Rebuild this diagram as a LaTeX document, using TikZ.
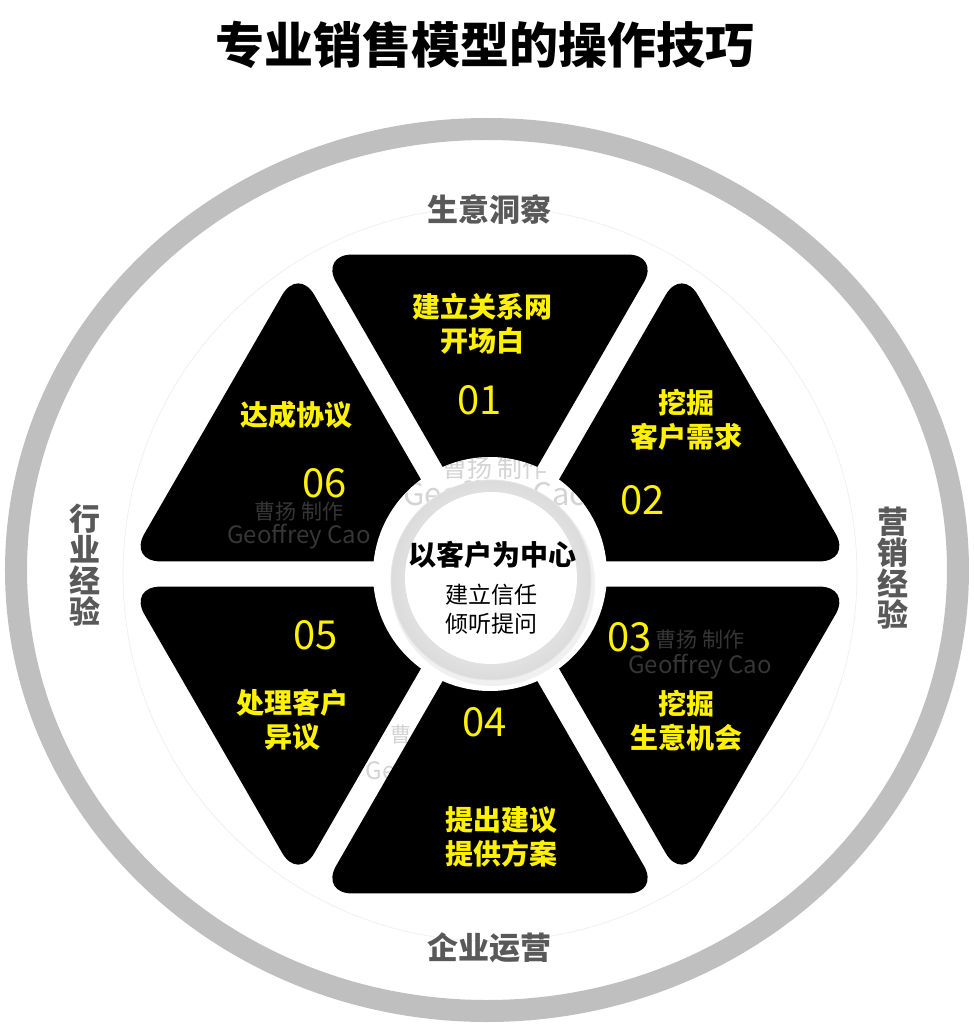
\documentclass[tikz,border=0pt]{standalone}
\usepackage{fontspec}
\setmainfont{Noto Sans CJK SC}
\definecolor{ringgray}{HTML}{BFBFBF}
\definecolor{labelgray}{HTML}{595959}
\definecolor{markdark}{HTML}{363636}
\definecolor{marklight}{HTML}{D4D4D4}

\begin{document}
\begin{tikzpicture}[x=1pt, y=1pt,
  tri/.style={fill=black, rounded corners=32pt},
  yl/.style={text=yellow, align=center, font=\bfseries\fontsize{28}{34}\selectfont},
  num/.style={text=yellow, font=\fontsize{40}{40}\selectfont},
  side/.style={text=labelgray, align=center, font=\bfseries\fontsize{31}{31}\selectfont},
  wmcn/.style={font=\fontsize{21}{21}\selectfont},
  wmen/.style={font=\fontsize{24}{24}\selectfont}]
\fill [white] (-490,-455) rectangle (484,574);
\useasboundingbox (-490,-455) rectangle (484,574);

\node (title) [font=\bfseries\fontsize{49}{49}\selectfont] at (-5,529) {专业销售模型的操作技巧};
\draw [ringgray, line width=22pt] (-3,4) ellipse [x radius=471, y radius=441];
\draw [black!7, line width=0.6pt] (0,0) circle [radius=367];
\node (top) [side] at (0,364) {生意洞察};
\node (bottom) [side] at (0,-374) {企业运营};
\node (left) [side] at (-405,9) {行\\业\\经\\验};
\node (right) [side] at (403,6) {营\\销\\经\\验};

\node (wm4a) [wmcn, text=marklight, anchor=west] at (-103,-161) {曹};
\node (wm4b) [wmen, text=marklight, anchor=west] at (-128,-197) {Ge};

\fill [tri] (90:25) -- (62:361.8) -- (118:361.8) -- cycle;
\fill [tri] (30:25) -- (2:361.8) -- (58:361.8) -- cycle;
\fill [tri] (-30:25) -- (-58:361.8) -- (-2:361.8) -- cycle;
\fill [tri] (-90:25) -- (-118:361.8) -- (-62:361.8) -- cycle;
\fill [tri] (-150:25) -- (-178:361.8) -- (-122:361.8) -- cycle;
\fill [tri] (150:25) -- (122:361.8) -- (178:361.8) -- cycle;

\node (s1) [yl] at (-7,250) {建立关系网\\开场白};
\node (n1) [num] at (-10,174) {01};
\node (s2) [yl] at (197,154) {挖掘\\客户需求};
\node (n2) [num] at (153,74) {02};
\node (n3) [num] at (140,-63) {03};
\node (wm3a) [wmcn, text=markdark] at (210,-66) {曹扬 制作};
\node (wm3b) [wmen, text=markdark] at (210,-93) {Geoffrey Cao};
\node (s3) [yl] at (197,-147) {挖掘\\生意机会};
\node (n4) [num] at (-5,-148) {04};
\node (s4) [yl] at (12,-263) {提出建议\\提供方案};
\node (n5) [num] at (-174,-61) {05};
\node (s5) [yl] at (-197,-146) {处理客户\\异议};
\node (s6) [yl] at (-193,159) {达成协议};
\node (n6) [num] at (-165,91) {06};
\node (wm6a) [wmcn, text=markdark] at (-191,62) {曹扬 制作};
\node (wm6b) [wmen, text=markdark] at (-191,37) {Geoffrey Cao};

\fill [white] (0,0) circle [radius=117];
\begin{scope}
\clip (0,0) circle [radius=117];
\node (wm0a) [wmcn, text=marklight, font=\fontsize{25}{25}\selectfont] at (5,106) {曹扬 制作};
\node (wm0b) [wmen, text=marklight, font=\fontsize{31}{31}\selectfont] at (6,77) {Geoffrey Cao};
\end{scope}
\fill [black!6] (3,-10) circle [radius=102];
\shade [inner color=white, outer color=black!14] (1,-6) circle [radius=100];
\fill [white] (1,-4) circle [radius=86];
\draw [black!10, line width=0.8pt] (1,-6) circle [radius=100];
\node (hub) [font=\bfseries\fontsize{28}{28}\selectfont] at (3,19) {以客户为中心};
\node (hubsub) [align=center, font=\fontsize{23}{29}\selectfont] at (2,-35) {建立信任\\倾听提问};
\end{tikzpicture}
\end{document}
